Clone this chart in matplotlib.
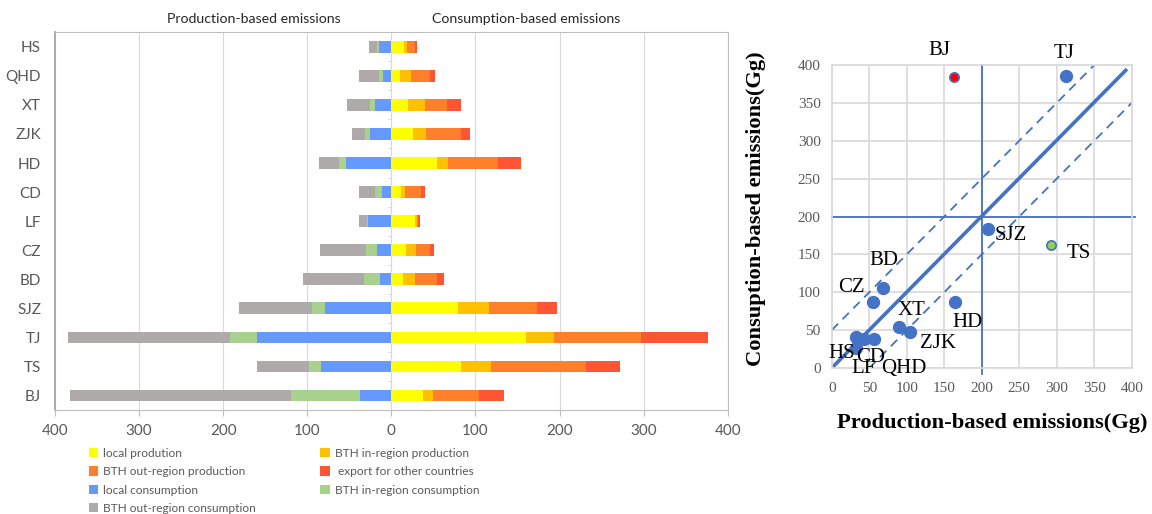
import numpy as np
import matplotlib
matplotlib.use('Agg')
import matplotlib.pyplot as plt
from matplotlib.ticker import FuncFormatter

# cities, bottom to top
cities = ['BJ', 'TS', 'TJ', 'SJZ', 'BD', 'CZ', 'LF', 'CD', 'HD', 'ZJK', 'XT', 'QHD', 'HS']

# production side (left, drawn negative)
local_cons = [36.9, 83.3, 160.3, 79.0, 13.9, 17.0, 27.4, 10.7, 53.6, 25.0, 19.4, 9.9, 14.3]
inreg_cons = [82.5, 14.7, 32.1, 15.9, 18.3, 13.1, 1.2, 8.3, 8.3, 6.0, 6.0, 5.2, 2.4]
outreg_cons = [263.0, 61.9, 191.7, 86.1, 73.0, 54.8, 10.3, 19.8, 23.8, 15.9, 27.0, 23.4, 9.5]

# consumption side (right)
local_prod = [37.7, 83.3, 160.7, 79.4, 14.3, 17.9, 28.2, 11.1, 54.0, 25.4, 19.8, 10.3, 15.1]
inreg_prod = [11.5, 34.9, 33.3, 37.3, 14.3, 11.1, 2.0, 5.2, 13.1, 16.3, 19.8, 12.7, 3.2]
outreg_prod = [55.2, 113.5, 102.8, 56.3, 26.2, 17.1, 1.0, 19.0, 59.5, 41.7, 26.2, 23.0, 9.5]
export = [29.8, 40.1, 79.4, 23.8, 7.9, 4.8, 2.6, 5.2, 27.8, 10.3, 17.5, 5.6, 3.2]

# scatter
sc_names = ['BJ', 'TJ', 'SJZ', 'TS', 'BD', 'CZ', 'HD', 'XT', 'ZJK', 'HS', 'CD', 'LF', 'QHD']
sc_prod = [163, 313, 209, 292, 69, 55, 164, 90, 104, 32, 43, 33, 57]
sc_cons = [384, 386, 183, 162, 106, 87, 87, 54, 48, 27, 38, 40.5, 38]

plt.rcParams['font.family'] = ['Lato', 'DejaVu Sans']

fig = plt.figure(figsize=(11.52, 5.14), dpi=100)

############ left: butterfly bars
ax = fig.add_axes([0.0477, 0.2023, 0.584, 0.735])
y = np.arange(len(cities))
h = 0.4

lc = -np.array(local_cons)
ic = -np.array(inreg_cons)
oc = -np.array(outreg_cons)
b_lc = ax.barh(y, lc, h, color='#6699FF', zorder=3)
b_ic = ax.barh(y, ic, h, left=lc, color='#A9D18E', zorder=3)
b_oc = ax.barh(y, oc, h, left=lc + ic, color='#AEAAAA', zorder=3)

lp = np.array(local_prod)
ip = np.array(inreg_prod)
op = np.array(outreg_prod)
ex = np.array(export)
b_lp = ax.barh(y, lp, h, color='#FFFF00', zorder=3)
b_ip = ax.barh(y, ip, h, left=lp, color='#FFC000', zorder=3)
b_op = ax.barh(y, op, h, left=lp + ip, color='#FF7F2A', zorder=3)
b_ex = ax.barh(y, ex, h, left=lp + ip + op, color='#FF5533', zorder=3)

ax.set_xlim(-400, 400)
ax.set_ylim(-0.5, len(cities) - 0.5)
ax.set_xticks(np.arange(-400, 401, 100))
ax.xaxis.set_major_formatter(FuncFormatter(lambda v, p: '%d' % abs(v)))
ax.set_yticks(y)
ax.set_yticklabels(cities)
ax.tick_params(axis='y', length=0, pad=10, labelsize=11, colors='#595959')
ax.tick_params(axis='x', length=4, color='#BFBFBF', labelsize=11, labelcolor='#595959', pad=6)
ax.grid(axis='x', color='#D9D9D9', lw=0.8, zorder=0)
for s in ax.spines.values():
    s.set_color('#BFBFBF')
ax.spines['left'].set_color('#A6A6A6')
ax.spines['left'].set_linewidth(1.3)
# category axis at zero with ticks between categories
ax.axvline(0, color='#D9D9D9', lw=0.8, zorder=1)
ax.hlines(np.arange(len(cities) - 1) + 0.5, -4, 0, color='#D9D9D9', lw=0.8, zorder=1)

ax.text(0.296, 1.035, 'Production-based emissions', transform=ax.transAxes,
        ha='center', va='center', fontsize=10.2, color='#262626')
ax.text(0.70, 1.035, 'Consumption-based emissions', transform=ax.transAxes,
        ha='center', va='center', fontsize=10.2, color='#262626')

handles = [b_lp, b_op, b_lc, b_oc, b_ip, b_ex, b_ic]
labels = ['local prodution', 'BTH out-region production', 'local consumption',
          'BTH out-region consumption', 'BTH in-region production',
          ' export for other countries', 'BTH in-region consumption']
leg = fig.legend(handles, labels, ncol=2, loc='upper left', bbox_to_anchor=(0.077, 0.129),
                 frameon=False, fontsize=8.6, handlelength=0.8, handleheight=0.8,
                 handletextpad=0.4, labelspacing=0.62, columnspacing=5.4,
                 borderaxespad=0, borderpad=0)
for t in leg.get_texts():
    t.set_color('#595959')

############ right: scatter
sx = fig.add_axes([0.722, 0.284, 0.2604, 0.5895])
serif = ['Liberation Serif', 'DejaVu Serif']
blue = '#4472C4'
sx.set_xlim(0, 400)
sx.set_ylim(0, 400)
sx.set_xticks(np.arange(0, 401, 50))
sx.set_yticks(np.arange(0, 401, 50))
sx.grid(True, color='#D9D9D9', lw=1.2, zorder=0)
for s in sx.spines.values():
    s.set_color('#D9D9D9')
    s.set_linewidth(1.2)
sx.tick_params(length=0, labelsize=11, labelcolor='#595959', pad=10)
sx.tick_params(axis='y', pad=8)
for lab in sx.get_xticklabels() + sx.get_yticklabels():
    lab.set_family(serif)

sx.plot([0, 392], [0, 393], color=blue, lw=2.6, zorder=2)
sx.plot([0, 350], [50, 400], color=blue, lw=1.3, ls=(0, (5, 3.5)), zorder=2)
sx.plot([50, 400], [0, 350], color=blue, lw=1.3, ls=(0, (5, 3.5)), zorder=2)
sx.plot([200, 200], [-8, 400], color=blue, lw=1.3, zorder=2, clip_on=False)
sx.plot([0, 405], [200, 200], color=blue, lw=1.3, zorder=2, clip_on=False)

face = {'BJ': '#FF0000', 'TS': '#92D050'}
for n, px, cy in zip(sc_names, sc_prod, sc_cons):
    fc = face.get(n, blue)
    sz = 45 if n in face else 70
    sx.scatter(px, cy, s=sz, color=fc, edgecolor=blue, lw=1.2, zorder=4, clip_on=False)

offsets = {'BJ': (-15, 27), 'TJ': (-2, 22), 'SJZ': (22, -6), 'TS': (28, -8),
           'BD': (0, 27), 'CZ': (-22, 15), 'HD': (13, -20), 'XT': (12, 17),
           'ZJK': (28, -12), 'HS': (-14, -6), 'CD': (7, -18), 'LF': (7, -31),
           'QHD': (29, -29)}
for n, px, cy in zip(sc_names, sc_prod, sc_cons):
    sx.annotate(n, (px, cy), xytext=offsets[n], textcoords='offset pixels',
                ha='center', va='center', fontsize=15, family=serif,
                annotation_clip=False, zorder=5)

sx.set_xlabel('Production-based emissions(Gg)', family=serif, fontsize=16.2,
              fontweight='bold')
sx.set_ylabel('Consuption-based emissions(Gg)', family=serif, fontsize=16.2,
              fontweight='bold')
sx.xaxis.set_label_coords(0.535, -0.15)
sx.yaxis.set_label_coords(-0.218, 0.525)

fig.savefig('out.png', dpi=100)
